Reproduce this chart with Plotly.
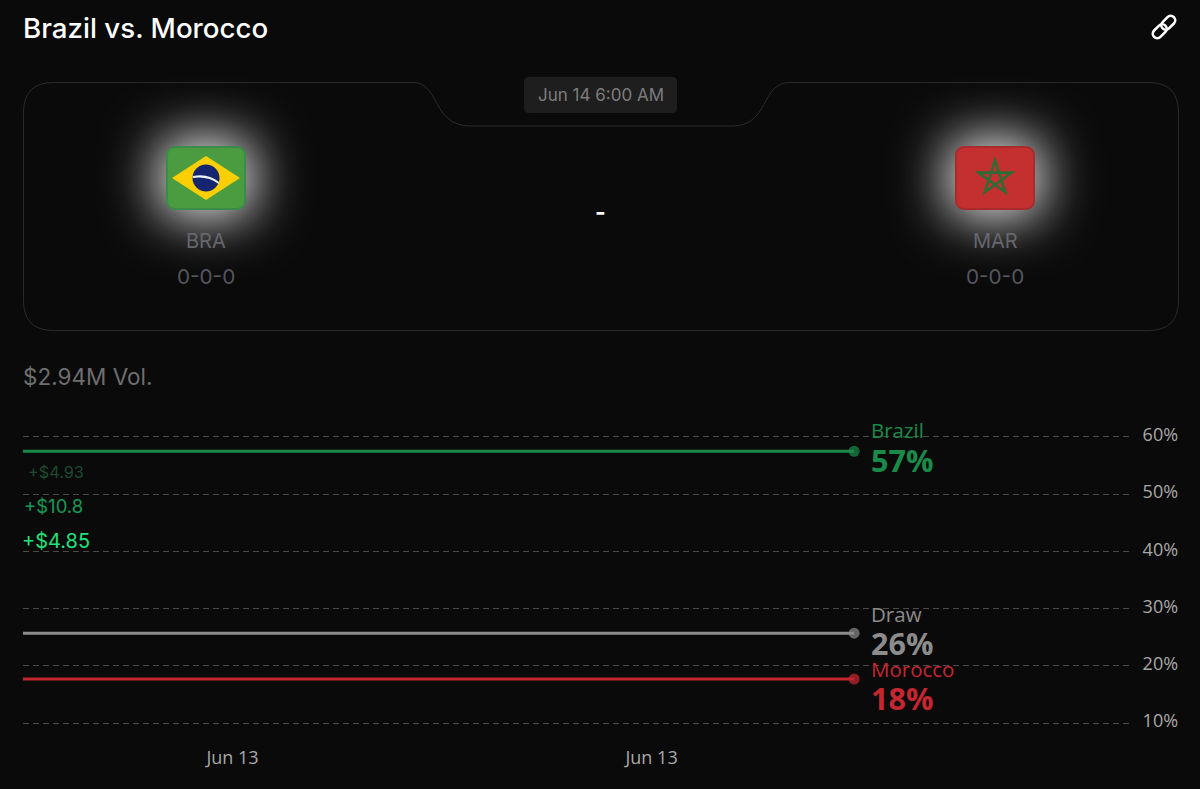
import base64
import math

import plotly.graph_objects as go

# chart data
outcomes = ['Brazil', 'Draw', 'Morocco']
start_times = ['2026-06-13 03:00', '2026-06-13 14:54']
brazil_values = [57.5, 57.5]
draw_values = [25.7, 25.7]
morocco_values = [17.7, 17.7]
percent_labels = ['57%', '26%', '18%']
y_ticks = [10, 20, 30, 40, 50, 60]
y_tick_labels = ['10%', '20%', '30%', '40%', '50%', '60%']
x_ticks = ['2026-06-13 06:00', '2026-06-13 12:00']
x_tick_labels = ['Jun 13', 'Jun 13']
trade_labels = ['+$4.93', '+$10.8', '+$4.85']
teams = ['BRA', 'MAR']
records = ['0-0-0', '0-0-0']

WIDTH = 1200
HEIGHT = 789
BG = '#0a0a0a'
BORDER = '#2b2b2b'
UI_FONT = 'Inter'
CHART_FONT = 'Open Sans'
colors = ['#1a8a49', '#8c8c8c', '#c6262f']


def px(x):
    return x / WIDTH


def py(y):
    return 1 - y / HEIGHT


def svg_image(svg, left, top, width, height):
    """Return a layout image from an svg string, placed in pixels."""
    encoded = base64.b64encode(svg.encode()).decode()
    return dict(source='data:image/svg+xml;base64,' + encoded, xref='paper', yref='paper',
                x=px(left), y=py(top), sizex=width / WIDTH, sizey=height / HEIGHT,
                xanchor='left', yanchor='top', sizing='stretch', layer='below')


def glow_svg():
    return ('<svg xmlns="http://www.w3.org/2000/svg" width="320" height="304" viewBox="0 0 320 304">'
            '<defs><filter id="b" x="-200%" y="-200%" width="500%" height="500%">'
            '<feGaussianBlur stdDeviation="27"/></filter></defs>'
            '<rect x="114" y="114" width="92" height="76" rx="12" fill="#ffffff" fill-opacity="1" '
            'filter="url(#b)"/></svg>')


def brazil_svg():
    return ('<svg xmlns="http://www.w3.org/2000/svg" width="80" height="64" viewBox="0 0 80 64">'
            '<rect x="1" y="1" width="78" height="62" rx="8" fill="#4b9c41" stroke="#3a8c48" stroke-width="2"/>'
            '<polygon points="6,32 40,10 74,32 40,54" fill="#fbcf04"/>'
            '<circle cx="40" cy="32" r="13.5" fill="#16256f"/>'
            '<path d="M27 30 Q42 27 53 36 L52.6 38 Q42 30 26.8 32 Z" fill="#eef1f5"/></svg>')


def morocco_svg():
    points = []
    for i in range(5):
        angle = math.radians(-90 + i * 144)
        points.append(f'{40 + 17.5 * math.cos(angle):.1f},{32 + 17.5 * math.sin(angle):.1f}')
    return ('<svg xmlns="http://www.w3.org/2000/svg" width="80" height="64" viewBox="0 0 80 64">'
            '<rect x="1" y="1" width="78" height="62" rx="8" fill="#c4302f" stroke="#a92b2b" stroke-width="2"/>'
            f'<polygon points="{" ".join(points)}" fill="none" stroke="#2f6b34" stroke-width="2.6"/>'
            '</svg>')


def link_svg():
    return ('<svg xmlns="http://www.w3.org/2000/svg" width="28" height="28" viewBox="0 0 28 28">'
            '<g fill="none" stroke="#ffffff" stroke-width="2.6" transform="rotate(-45 14 14)">'
            '<rect x="0" y="9.5" width="16" height="9" rx="4.5"/>'
            '<rect x="12" y="9.5" width="16" height="9" rx="4.5"/></g></svg>')


def card_path():
    """Card outline with the notch under the date pill, in paper coordinates."""
    def p(x, y):
        return f'{px(x):.5f},{py(y):.5f}'
    left, right, top, bottom, r = 23.5, 1178.5, 82.5, 330.5, 30
    return (f'M {p(left + r, top)} L {p(413, top)} '
            f'C {p(440, top)} {p(432, 126)} {p(470, 126)} L {p(732, 126)} '
            f'C {p(770, 126)} {p(760, top)} {p(790, top)} L {p(right - r, top)} '
            f'Q {p(right, top)} {p(right, top + r)} L {p(right, bottom - r)} '
            f'Q {p(right, bottom)} {p(right - r, bottom)} L {p(left + r, bottom)} '
            f'Q {p(left, bottom)} {p(left, bottom - r)} L {p(left, top + r)} '
            f'Q {p(left, top)} {p(left + r, top)} Z')


def pill_path():
    def p(x, y):
        return f'{px(x):.5f},{py(y):.5f}'
    left, right, top, bottom, r = 524, 677, 77, 113, 5
    return (f'M {p(left + r, top)} L {p(right - r, top)} Q {p(right, top)} {p(right, top + r)} '
            f'L {p(right, bottom - r)} Q {p(right, bottom)} {p(right - r, bottom)} '
            f'L {p(left + r, bottom)} Q {p(left, bottom)} {p(left, bottom - r)} '
            f'L {p(left, top + r)} Q {p(left, top)} {p(left + r, top)} Z')


def label(text, x, y, size, color, font=UI_FONT, weight=400, xanchor='left'):
    """Return a paper annotation whose text is vertically centered on pixel y."""
    return dict(text=text, x=px(x), y=py(y), xref='paper', yref='paper', xanchor=xanchor,
                yanchor='middle', showarrow=False, borderpad=0, borderwidth=0,
                font=dict(family=font, size=size, color=color, weight=weight))


fig = go.Figure()
for name, values, color in zip(outcomes, [brazil_values, draw_values, morocco_values], colors):
    fig.add_trace(go.Scatter(x=start_times, y=values, name=name, mode='lines+markers',
                             line=dict(color=color, width=3),
                             marker=dict(color=color, size=[0, 11], line=dict(width=0)),
                             hoverinfo='skip'))

annotations = [
    label('Brazil vs. Morocco', 22.5, 28, 27.7, '#ffffff', weight=500),
    label('Jun 14 6:00 AM', 600.5, 95, 17, '#7c7c7c', xanchor='center'),
    label('-', 600.5, 212, 23, '#ffffff', weight=700, xanchor='center'),
    label(teams[0], 206, 241, 20, '#66666e', xanchor='center'),
    label(teams[1], 995, 241, 20, '#66666e', xanchor='center'),
    label(records[0], 206, 276, 20.7, '#55555e', xanchor='center'),
    label(records[1], 995, 276, 20.7, '#55555e', xanchor='center'),
    label('$2.94M Vol.', 22.5, 376, 22.5, '#6e6e6e'),
    label(trade_labels[0], 27.5, 472, 16.3, '#1c4a30'),
    label(trade_labels[1], 24, 506, 18.5, '#139a56'),
    label(trade_labels[2], 21.5, 541, 20, '#20e27a'),
]
for name, pct, color, name_y, pct_y in zip(outcomes, percent_labels, colors,
                                           [430.5, 613.5, 668.5], [460, 643, 698]):
    annotations.append(label(name, 871, name_y, 20.5, color, font=CHART_FONT))
    annotations.append(label(pct, 871, pct_y, 30.5, color, font=CHART_FONT, weight=700))

fig.update_layout(
    width=WIDTH, height=HEIGHT, autosize=False,
    margin=dict(l=0, r=0, t=0, b=0, pad=0),
    paper_bgcolor=BG, plot_bgcolor=BG,
    showlegend=False,
    xaxis=dict(type='date', domain=[px(23), px(1130)], automargin=False,
               range=['2026-06-13 03:00', '2026-06-13 18:51'],
               tickvals=x_ticks, ticktext=x_tick_labels,
               showgrid=False, zeroline=False, showline=False,
               ticks='outside', ticklen=7, tickcolor='rgba(0,0,0,0)',
               tickfont=dict(family=CHART_FONT, size=18, color='#a8a8a8')),
    yaxis=dict(domain=[py(734.5), py(425.5)], range=[8, 62], side='right', automargin=False,
               tickvals=y_ticks, ticktext=y_tick_labels, ticklabelshift=-2,
               showgrid=True, gridcolor='#4a4a4a', griddash='6px,4px', gridwidth=1,
               zeroline=False, showline=False,
               ticks='outside', ticklen=8, tickcolor='rgba(0,0,0,0)',
               tickfont=dict(family=CHART_FONT, size=18, color='#a8a8a8')),
    shapes=[
        dict(type='path', path=card_path(), xref='paper', yref='paper',
             line=dict(color=BORDER, width=1), fillcolor='rgba(0,0,0,0)', layer='below'),
        dict(type='path', path=pill_path(), xref='paper', yref='paper',
             line=dict(width=0), fillcolor='#1e1e1e', layer='below'),
    ],
    images=[
        svg_image(glow_svg(), 46, 26, 320, 304),
        svg_image(glow_svg(), 835, 26, 320, 304),
        svg_image(brazil_svg(), 166, 146, 80, 64),
        svg_image(morocco_svg(), 955, 146, 80, 64),
        svg_image(link_svg(), 1150, 13, 28, 28),
    ],
    annotations=annotations,
)

fig.write_html('out.html', config=dict(displayModeBar=False),
               post_script="document.body.style.margin='0';document.body.style.background='#0a0a0a';")
